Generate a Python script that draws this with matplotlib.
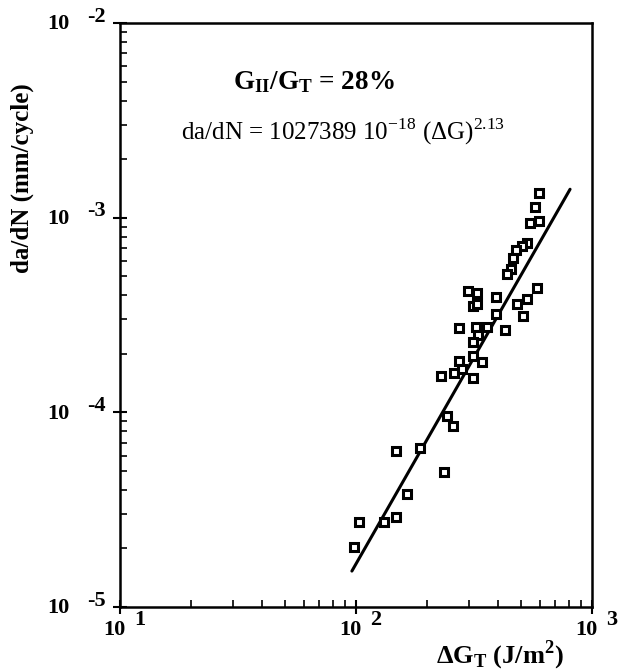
"""Fatigue crack growth rate vs. total energy release rate range, log-log, G_II/G_T = 28 %."""
import matplotlib
matplotlib.use("Agg")
import matplotlib.pyplot as plt
import numpy as np

SERIF = ["Liberation Serif", "DejaVu Serif"]
plt.rcParams["font.family"] = SERIF
plt.rcParams["mathtext.fontset"] = "custom"
plt.rcParams["mathtext.rm"] = "Liberation Serif"
plt.rcParams["mathtext.bf"] = "Liberation Serif:bold"

dG = [596, 573, 546, 596, 531, 505, 476, 463, 454, 436,
      298, 326, 313, 326, 392, 585, 531, 481, 510, 392,
      273, 322, 359, 428, 329, 313, 313, 273, 342, 229,
      260, 281, 313, 243, 258, 148, 187, 236, 164, 148,
      131, 103, 98]
dadN = [1.34e-3, 1.135e-3, 9.4e-4, 9.6e-4, 7.41e-4, 7.16e-4, 6.83e-4, 6.21e-4, 5.45e-4, 5.14e-4,
        4.2e-4, 4.1e-4, 3.52e-4, 3.6e-4, 3.92e-4, 4.35e-4, 3.82e-4, 3.6e-4, 3.13e-4, 3.2e-4,
        2.71e-4, 2.75e-4, 2.75e-4, 2.65e-4, 2.5e-4, 2.3e-4, 1.95e-4, 1.84e-4, 1.82e-4, 1.54e-4,
        1.59e-4, 1.67e-4, 1.5e-4, 9.6e-5, 8.5e-5, 6.34e-5, 6.56e-5, 4.94e-5, 3.81e-5, 2.9e-5,
        2.74e-5, 2.74e-5, 2.04e-5]

# fitted power law, drawn between its two end points
fit_x = [96.1, 807.0]
fit_y = [1.53e-5, 1.40e-3]

x_dec = [1, 2, 3]
y_dec = [-5, -4, -3, -2]

fig = plt.figure(figsize=(6.18, 6.72), dpi=100)
ax = fig.add_axes([0.194, 0.0967, 0.764, 0.869])
ax.set_xscale("log")
ax.set_yscale("log")
ax.set_xlim(10, 1000)
ax.set_ylim(1e-5, 1e-2)

ax.plot(fit_x, fit_y, color="black", lw=2.2, solid_capstyle="round", zorder=2)
ax.plot(dG, dadN, ls="none", marker="s", ms=6.3, mfc="white", mec="black", mew=2.2, zorder=3)

for s in ax.spines.values():
    s.set_linewidth(1.8)
ax.tick_params(which="major", direction="inout", length=10, width=1.5)
ax.tick_params(which="minor", direction="in", length=5, width=1.2)
ax.set_xticklabels([], minor=False)
ax.set_xticklabels([], minor=True)
ax.set_yticklabels([], minor=False)
ax.set_yticklabels([], minor=True)

# tick labels drawn as "10" with a raised, detached exponent
tf = dict(fontsize=16, fontweight="bold", family=SERIF)
for d in x_dec:
    ax.annotate("10", (10.0 ** d, 1e-5), xycoords="data", xytext=(-4.3, -16.5),
                textcoords="offset points", ha="center", va="center", **tf)
    ax.annotate(str(d), (10.0 ** d, 1e-5), xycoords="data", xytext=(14.4, -9.4),
                textcoords="offset points", ha="center", va="center", **tf)
for d in y_dec:
    ax.annotate("10", (10, 10.0 ** d), xycoords="data", xytext=(-44, -1),
                textcoords="offset points", ha="center", va="center", **tf)
    ax.annotate(str(d), (10, 10.0 ** d), xycoords="data", xytext=(-17, 4.5),
                textcoords="offset points", ha="center", va="center", **tf)

fig.text(0.036, 0.735, "da/dN (mm/cycle)", rotation=90, ha="center", va="center",
         fontsize=18, fontweight="bold")
fig.text(0.809, 0.025, r"$\mathbf{\Delta G_T}$ (J/m$^\mathbf{2}$)", ha="center", va="center",
         fontsize=19, fontweight="bold")

fig.text(0.377, 0.878, r"$\mathbf{G_{II}/G_T}$ = 28%", ha="left", va="center",
         fontsize=19.5, fontweight="bold")
fig.text(0.293, 0.804, r"da/dN = 1027389 10$^{-18}$ ($\Delta$G)$^{2.13}$", ha="left", va="center",
         fontsize=18)

fig.savefig("out.png", dpi=100)
